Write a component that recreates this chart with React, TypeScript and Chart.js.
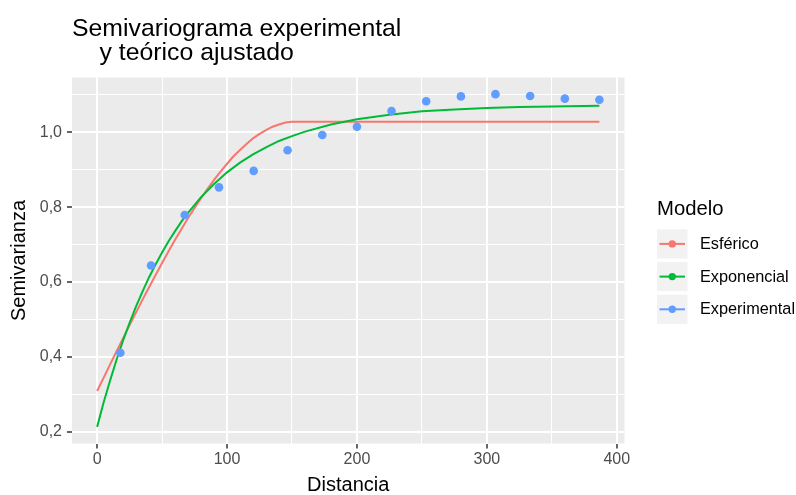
import React, { useEffect, useRef } from 'react';
import { Chart, registerables } from 'chart.js';

Chart.register(...registerables);

// ---------- data ----------
const EXP_DIST = [17.9, 41.5, 67.4, 93.8, 120.5, 146.6, 173.3, 200.0, 226.6, 253.3, 280.0, 306.6, 333.3, 360.0, 386.6];
const EXP_GAMMA = [0.411, 0.644, 0.779, 0.853, 0.897, 0.952, 0.993, 1.015, 1.057, 1.083, 1.096, 1.102, 1.097, 1.090, 1.087];

const SPH_DIST = [0, 5, 10, 15, 20, 25, 30, 35, 40, 45, 50, 55, 60, 65, 70, 75, 80, 85, 90, 95, 100, 105, 110, 115, 120, 125, 130, 135, 140, 145, 150, 152, 200, 250, 300, 350, 386.6];
const SPH_GAMMA = [0.309, 0.344, 0.380, 0.415, 0.450, 0.485, 0.519, 0.553, 0.586, 0.619, 0.651, 0.682, 0.713, 0.742, 0.771, 0.798, 0.824, 0.849, 0.873, 0.895, 0.916, 0.936, 0.953, 0.969, 0.984, 0.996, 1.006, 1.015, 1.021, 1.026, 1.028, 1.028, 1.028, 1.028, 1.028, 1.028, 1.028];

const EXPO_DIST = [0, 5, 10, 15, 20, 25, 30, 35, 40, 45, 50, 55, 60, 65, 70, 80, 90, 100, 110, 120, 130, 140, 150, 160, 180, 200, 225, 250, 275, 300, 325, 350, 386.6];
const EXPO_GAMMA = [0.213, 0.278, 0.337, 0.393, 0.444, 0.491, 0.535, 0.575, 0.613, 0.647, 0.679, 0.709, 0.736, 0.762, 0.785, 0.827, 0.862, 0.893, 0.919, 0.941, 0.960, 0.977, 0.990, 1.002, 1.021, 1.035, 1.047, 1.056, 1.061, 1.065, 1.068, 1.069, 1.071];

const SERIES_NAMES = ['Esférico', 'Exponencial', 'Experimental'];
const SERIES_COLORS = ['#F8766D', '#00BA38', '#619CFF'];

const X_MAJOR = [0, 100, 200, 300, 400];
const X_MINOR = [50, 150, 250, 350];
const X_TICK_LABELS = ['0', '100', '200', '300', '400'];

const Y_MAJOR = [0.2, 0.4, 0.6, 0.8, 1.0];
const Y_MINOR = [0.3, 0.5, 0.7, 0.9, 1.1];
const Y_TICK_LABELS = ['0,2', '0,4', '0,6', '0,8', '1,0'];

const TITLE_LINES = ['Semivariograma experimental', '    y teórico ajustado'];
const X_TITLE = 'Distancia';
const Y_TITLE = 'Semivarianza';
const LEGEND_TITLE = 'Modelo';

// ---------- style ----------
const FONT = '"Liberation Sans", Arial, Helvetica, sans-serif';
const PANEL_BG = '#EBEBEB';

const toXY = (xs: number[], ys: number[]) => xs.map((x, i) => ({ x, y: ys[i] }));

const isIn = (arr: number[], v: number) => arr.some((a) => Math.abs(a - v) < 1e-9);

const panelBgPlugin = {
  id: 'panelBg',
  beforeDraw(chart: any) {
    const { ctx, chartArea } = chart;
    ctx.save();
    ctx.fillStyle = PANEL_BG;
    ctx.fillRect(chartArea.left, chartArea.top, chartArea.right - chartArea.left, chartArea.bottom - chartArea.top);
    ctx.restore();
  },
};

const decorPlugin = {
  id: 'decor',
  afterDraw(chart: any) {
    const { ctx } = chart;
    ctx.save();
    // title
    ctx.fillStyle = '#000000';
    ctx.font = `24.8px ${FONT}`;
    ctx.textAlign = 'left';
    ctx.textBaseline = 'alphabetic';
    ctx.fillText(TITLE_LINES[0], 72, 35.5);
    ctx.fillText(TITLE_LINES[1], 72, 59.5);

    // legend
    const lx = 657;
    ctx.font = `20.3px ${FONT}`;
    ctx.fillText(LEGEND_TITLE, lx, 214.5);
    const keyW = 30.5;
    const keyH = 29.2;
    const pitch = 32.7;
    const top0 = 229.3;
    ctx.font = `16.3px ${FONT}`;
    ctx.textBaseline = 'middle';
    SERIES_NAMES.forEach((name, i) => {
      const y0 = top0 + i * pitch;
      const cy = y0 + keyH / 2;
      ctx.fillStyle = '#F2F2F2';
      ctx.fillRect(lx, y0, keyW, keyH);
      ctx.strokeStyle = SERIES_COLORS[i];
      ctx.lineWidth = 2;
      ctx.beginPath();
      ctx.moveTo(lx + 2.5, cy);
      ctx.lineTo(lx + keyW - 2.5, cy);
      ctx.stroke();
      ctx.fillStyle = SERIES_COLORS[i];
      ctx.beginPath();
      ctx.arc(lx + keyW / 2, cy, 3.7, 0, Math.PI * 2);
      ctx.fill();
      ctx.fillStyle = '#000000';
      ctx.fillText(name, 700, cy + 0.5);
    });
    ctx.restore();
  },
};

const gridColor = () => '#FFFFFF';

export default function App() {
  const canvasRef = useRef<HTMLCanvasElement | null>(null);

  useEffect(() => {
    if (!canvasRef.current) return;
    const chart = new Chart(canvasRef.current, {
      type: 'scatter',
      data: {
        datasets: [
          {
            label: SERIES_NAMES[2],
            data: toXY(EXP_DIST, EXP_GAMMA),
            showLine: false,
            pointRadius: 4.3,
            pointHoverRadius: 4.3,
            pointBorderWidth: 0,
            pointBackgroundColor: SERIES_COLORS[2],
            backgroundColor: SERIES_COLORS[2],
            borderColor: SERIES_COLORS[2],
            order: 0,
          },
          {
            label: SERIES_NAMES[1],
            data: toXY(EXPO_DIST, EXPO_GAMMA),
            showLine: true,
            pointRadius: 0,
            borderWidth: 2,
            borderColor: SERIES_COLORS[1],
            backgroundColor: SERIES_COLORS[1],
            tension: 0,
            order: 1,
          },
          {
            label: SERIES_NAMES[0],
            data: toXY(SPH_DIST, SPH_GAMMA),
            showLine: true,
            pointRadius: 0,
            borderWidth: 2,
            borderColor: SERIES_COLORS[0],
            backgroundColor: SERIES_COLORS[0],
            tension: 0,
            order: 2,
          },
        ],
      },
      options: {
        animation: false,
        responsive: false,
        devicePixelRatio: 1,
        layout: { padding: { left: 0, top: 77.5, right: 171.5, bottom: 0 } },
        plugins: {
          legend: { display: false },
          title: { display: false },
          tooltip: { enabled: false },
        },
        scales: {
          x: {
            type: 'linear',
            min: -19.33,
            max: 405.93,
            afterBuildTicks: (scale: any) => {
              scale.ticks = [...X_MAJOR, ...X_MINOR].sort((a, b) => a - b).map((v) => ({ value: v }));
            },
            afterFit: (scale: any) => {
              scale.height = 51.5;
            },
            border: { display: false },
            grid: {
              color: gridColor,
              lineWidth: (ctx: any) => (ctx.tick && isIn(X_MAJOR, ctx.tick.value) ? 2 : 1),
              tickColor: (ctx: any) => (ctx.tick && isIn(X_MAJOR, ctx.tick.value) ? '#333333' : 'rgba(0,0,0,0)'),
              tickWidth: 1.5,
              tickLength: 5,
              drawTicks: true,
            },
            ticks: {
              autoSkip: false,
              maxRotation: 0,
              padding: 3,
              color: '#4D4D4D',
              font: { family: FONT, size: 16, lineHeight: 1 },
              callback: (value: any) => {
                const i = X_MAJOR.findIndex((m) => Math.abs(m - Number(value)) < 1e-9);
                return i >= 0 ? X_TICK_LABELS[i] : '';
              },
            },
            title: {
              display: true,
              text: X_TITLE,
              color: '#000000',
              font: { family: FONT, size: 20, lineHeight: 1 },
              padding: { top: 0, bottom: 0 },
            },
          },
          y: {
            type: 'linear',
            min: 0.1686,
            max: 1.1465,
            afterBuildTicks: (scale: any) => {
              scale.ticks = [...Y_MAJOR, ...Y_MINOR].sort((a, b) => a - b).map((v) => ({ value: v }));
            },
            afterFit: (scale: any) => {
              scale.width = 72;
            },
            border: { display: false },
            grid: {
              color: gridColor,
              lineWidth: (ctx: any) => (ctx.tick && isIn(Y_MAJOR, ctx.tick.value) ? 2 : 1),
              tickColor: (ctx: any) => (ctx.tick && isIn(Y_MAJOR, ctx.tick.value) ? '#333333' : 'rgba(0,0,0,0)'),
              tickWidth: 1.5,
              tickLength: 5,
              drawTicks: true,
            },
            ticks: {
              autoSkip: false,
              padding: 5,
              color: '#4D4D4D',
              font: { family: FONT, size: 16, lineHeight: 1 },
              callback: (value: any) => {
                const i = Y_MAJOR.findIndex((m) => Math.abs(m - Number(value)) < 1e-9);
                return i >= 0 ? Y_TICK_LABELS[i] : '';
              },
            },
            title: {
              display: true,
              text: Y_TITLE,
              color: '#000000',
              font: { family: FONT, size: 20, lineHeight: 1 },
              padding: { top: 9, bottom: 0 },
            },
          },
        },
      },
      plugins: [panelBgPlugin, decorPlugin],
    } as any);
    return () => chart.destroy();
  }, []);

  return (
    <div style={{ position: 'absolute', left: 0, top: 0, width: 796, height: 495, background: '#FFFFFF' }}>
      <canvas ref={canvasRef} width={796} height={495} style={{ display: 'block', width: 796, height: 495 }} />
    </div>
  );
}
